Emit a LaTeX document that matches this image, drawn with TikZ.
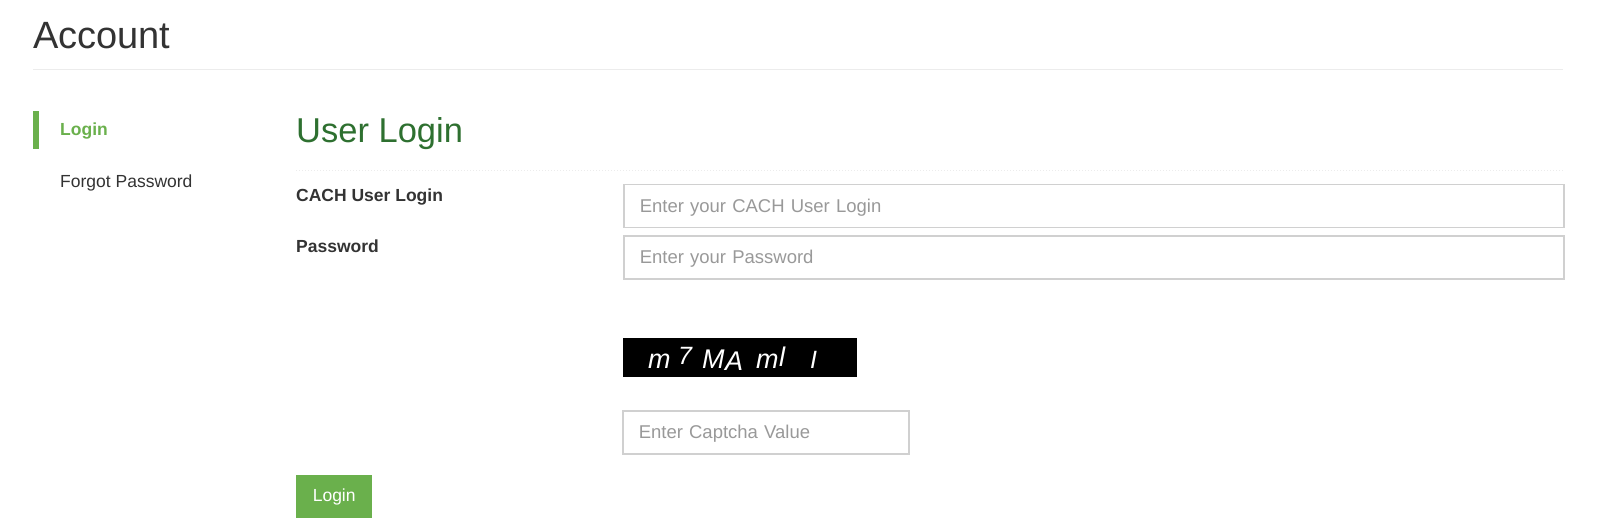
\documentclass[tikz,border=0pt]{standalone}
\usepackage{fontspec}
\setmainfont{Liberation Sans}
\usetikzlibrary{positioning}

\definecolor{leafgreen}{RGB}{106,176,76}
\definecolor{titlegreen}{RGB}{46,112,48}
\definecolor{inkgrey}{RGB}{51,51,51}
\definecolor{hintgrey}{RGB}{153,153,153}
\definecolor{edgegrey}{RGB}{208,208,208}
\definecolor{rulegrey}{RGB}{236,236,236}

\begin{document}
\begin{tikzpicture}[
  x=1pt, y=-1pt,
  node distance=7pt,
  txt/.style={inner sep=0pt, anchor=base west, text=inkgrey, font=\fontsize{17.5}{21}\selectfont},
  boldtxt/.style={txt, font=\fontsize{17.5}{21}\selectfont\bfseries},
  field/.style={draw=edgegrey, line width=1.5pt, fill=white, inner xsep=16pt, inner ysep=0pt,
    minimum height=43pt, anchor=north west, text=hintgrey, align=left, text depth=1pt,
    font=\fontsize{18.5}{22}\selectfont},
  captchachar/.style={inner sep=0pt, anchor=base west, text=white},
  button/.style={fill=leafgreen, text=white, minimum width=76pt, minimum height=43pt,
    inner sep=0pt, anchor=north west, font=\fontsize{17.5}{21}\selectfont}
]
  \useasboundingbox (0,0) rectangle (1600,521);

  % page header
  \node[txt, font=\fontsize{38}{44}\selectfont] (account) at (33,49) {Account};
  \draw[rulegrey, line width=1pt] (33,70) -- (1563,70);

  % side menu
  \fill[leafgreen] (33,111) rectangle (39,149);
  \node[boldtxt, text=leafgreen] (menulogin) at (60,136) {Login};
  \node[txt] (menuforgot) at (60,188) {Forgot Password};

  % form
  \node[txt, text=titlegreen, font=\fontsize{34.5}{40}\selectfont] (title) at (296,143) {User Login};
  \draw[rulegrey, dotted, line width=1pt] (296,171) -- (1563,171);

  \node[boldtxt] (userlabel) at (296,202) {CACH User Login};
  \node[boldtxt] (pwdlabel) at (296,253) {Password};

  \node[field, text width=908pt] (userfield) at (623,184) {Enter your CACH User Login};
  \node[field, text width=908pt, below=7pt of userfield.south west, anchor=north west] (pwdfield) {Enter your Password};

  \node[fill=black, minimum width=234pt, minimum height=39pt, inner sep=0pt, anchor=north west] (captcha) at (623,338) {};
  \foreach \ch/\cx/\cy/\cs in {m/648/368/27, 7/678/364/25, M/702/368/27, A/725/370/27,
                              m/756/368/27, l/779/366/27, I/810/368/25}
    \node[captchachar, font=\fontsize{\cs}{\cs}\selectfont\itshape] (cc\cx) at (\cx,\cy) {\ch};

  \node[field, text width=254pt] (captchafield) at (622,410) {Enter Captcha Value};

  \node[button] (loginbtn) at (296,475) {Login};
\end{tikzpicture}
\end{document}
